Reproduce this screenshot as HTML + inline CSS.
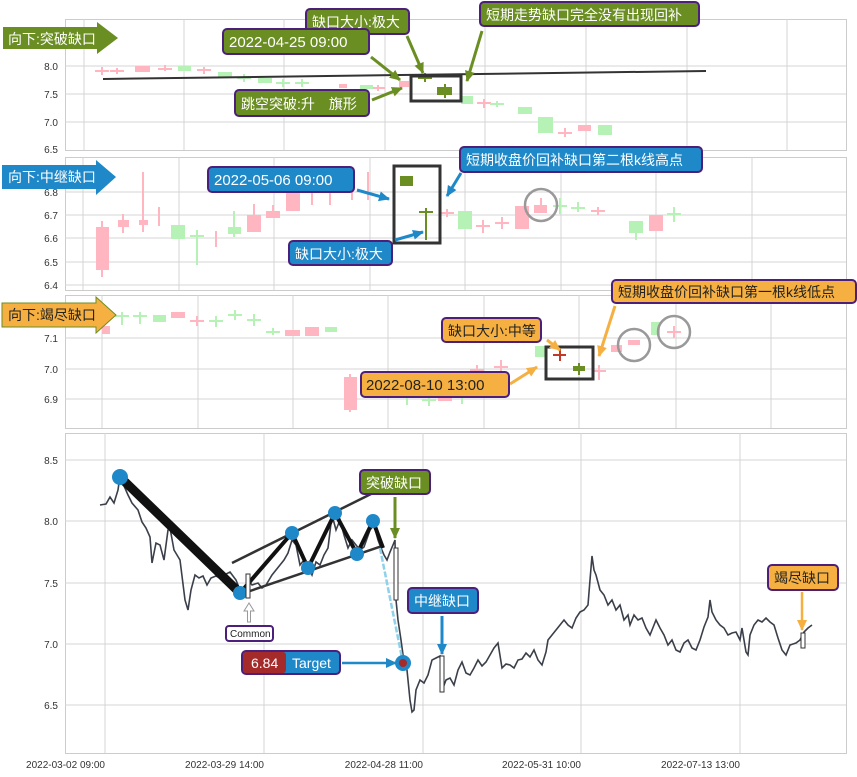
<!DOCTYPE html>
<html><head><meta charset="utf-8"><style>
body{margin:0;background:#fff}
svg{display:block;font-family:"Liberation Sans","Noto Sans CJK SC",sans-serif}
.ax{font-size:10px;fill:#333}
.g{stroke:#d4d4d4;stroke-width:1}
.lb{font-size:14px}
</style></head><body>
<svg width="857" height="777" viewBox="0 0 857 777" xmlns="http://www.w3.org/2000/svg">
<defs>
<marker id="ag" markerUnits="userSpaceOnUse" markerWidth="12" markerHeight="12" refX="10" refY="6" orient="auto"><path d="M0,1L11,6L0,11z" fill="#6b8e23"/></marker>
<marker id="ab" markerUnits="userSpaceOnUse" markerWidth="12" markerHeight="12" refX="10" refY="6" orient="auto"><path d="M0,1L11,6L0,11z" fill="#1e88c8"/></marker>
<marker id="ao" markerUnits="userSpaceOnUse" markerWidth="12" markerHeight="12" refX="10" refY="6" orient="auto"><path d="M0,1L11,6L0,11z" fill="#f5b041"/></marker>
</defs>
<g fill="none" stroke="#ccc">
<rect x="65.5" y="19.5" width="781" height="131"/>
<rect x="65.5" y="157.5" width="781" height="133"/>
<rect x="65.5" y="295.5" width="781" height="133"/>
<rect x="65.5" y="433.5" width="781" height="320"/>
</g>
<g class="g">
<path d="M65 66H846M65 94H846M65 122H846M84 19V150M184 19V150M284 19V150M385 19V150M485 19V150M586 19V150M687 19V150M787 19V150"/>
<path d="M65 192H846M65 215H846M65 238H846M65 262H846M65 285H846M83 157V290M179 157V290M274 157V290M370 157V290M465 157V290M561 157V290M656 157V290M752 157V290"/>
<path d="M65 338H846M65 369H846M65 399H846M102 295V428M198 295V428M293 295V428M388 295V428M484 295V428M579 295V428M676 295V428M771 295V428"/>
<path d="M65 460H846M65 521H846M65 583H846M65 644H846M65 705H846M105 433V753M264 433V753M423 433V753M581 433V753M740 433V753"/>
</g>
<g class="ax" text-anchor="end">
<text x="58" y="70">8.0</text><text x="58" y="98">7.5</text><text x="58" y="126">7.0</text><text x="58" y="153">6.5</text>
<text x="58" y="196">6.8</text><text x="58" y="219">6.7</text><text x="58" y="242">6.6</text><text x="58" y="266">6.5</text><text x="58" y="289">6.4</text>
<text x="58" y="342">7.1</text><text x="58" y="373">7.0</text><text x="58" y="403">6.9</text>
<text x="58" y="464">8.5</text><text x="58" y="525">8.0</text><text x="58" y="587">7.5</text><text x="58" y="648">7.0</text><text x="58" y="709">6.5</text>
</g>
<g class="ax" text-anchor="end">
<text x="105" y="768">2022-03-02 09:00</text><text x="264" y="768">2022-03-29 14:00</text><text x="423" y="768">2022-04-28 11:00</text><text x="581" y="768">2022-05-31 10:00</text><text x="740" y="768">2022-07-13 13:00</text>
</g>
<g stroke-width="2">
<g fill="#ffb6c1" stroke="#ffb6c1">
<path d="M95 71H109M102 67V75M110 71H124M117 68V74M158 69H172M165 65V71M197 70H211M204 67V74M371 88H385M378 85V91M477 103H491M484 99V108M558 133H572M565 128V137"/>
<rect x="135" y="66" width="15" height="6" stroke="none"/><rect x="339" y="84" width="8" height="4" stroke="none"/><rect x="399" y="81" width="10" height="6" stroke="none"/><rect x="578" y="125" width="13" height="6" stroke="none"/>
</g>
<g fill="#b6f2b6" stroke="#b6f2b6">
<path d="M237 78H251M244 74V82M276 83H290M283 79V87M295 83H309M302 79V87M490 104H504M497 101V107"/>
<rect x="178" y="66" width="13" height="5" stroke="none"/><rect x="218" y="72" width="14" height="5" stroke="none"/><rect x="258" y="78" width="14" height="5" stroke="none"/><rect x="360" y="85" width="13" height="4" stroke="none"/><rect x="461" y="96" width="12" height="8" stroke="none"/><rect x="518" y="107" width="14" height="7" stroke="none"/><rect x="538" y="117" width="15" height="16" stroke="none"/><rect x="598" y="125" width="14" height="10" stroke="none"/>
</g>
<path d="M418 78H432M425 73V82" stroke="#6b8e23"/>
<rect x="437" y="87" width="15" height="8" fill="#6b8e23"/><path d="M445 84V98" stroke="#6b8e23"/>
</g>
<path d="M103 79L706 71" stroke="#333" stroke-width="2"/>
<rect x="411" y="76" width="50" height="25" fill="none" stroke="#333" stroke-width="3"/>
<g stroke-width="2">
<g fill="#ffb6c1" stroke="#ffb6c1">
<path d="M102 221V277M123 214V233M143 172V232M159 207V226M216 231V247M254 204V232M273 205V218M293 186V211M312 175V205M330 178V205M352 180V200M368 172V200M440 213H454M447 209V217M476 226H490M483 220V233M495 223H509M502 217V229M591 211H605M598 207V215"/>
<rect x="96" y="227" width="13" height="43" stroke="none"/><rect x="118" y="220" width="11" height="7" stroke="none"/><rect x="139" y="220" width="9" height="5" stroke="none"/><rect x="247" y="215" width="14" height="17" stroke="none"/><rect x="266" y="211" width="14" height="7" stroke="none"/><rect x="286" y="192" width="14" height="19" stroke="none"/><rect x="515" y="206" width="14" height="23" stroke="none"/><rect x="534" y="205" width="13" height="8" stroke="none"/><rect x="649" y="215" width="14" height="16" stroke="none"/>
<path d="M541 198V213"/>
</g>
<g fill="#b6f2b6" stroke="#b6f2b6">
<path d="M197 230V265M190 236H204M234 211V237M553 206H567M560 198V214M571 208H585M578 202V212M667 214H681M674 207V222M636 229V240"/>
<rect x="171" y="225" width="14" height="14" stroke="none"/><rect x="228" y="227" width="13" height="7" stroke="none"/><rect x="458" y="211" width="14" height="18" stroke="none"/><rect x="629" y="221" width="14" height="12" stroke="none"/>
</g>
<rect x="400" y="176" width="13" height="10" fill="#6b8e23"/>
<path d="M419 212H433M426 208V240" stroke="#6b8e23" stroke-width="2"/>
</g>
<rect x="394" y="166" width="46" height="77" fill="none" stroke="#333" stroke-width="3"/>
<circle cx="541" cy="205" r="16" fill="none" stroke="#999" stroke-width="2.5"/>
<g stroke-width="2">
<g fill="#ffb6c1" stroke="#ffb6c1">
<path d="M190 321H204M197 316V326M350 374V412M470 370H484M477 365V375M494 367H508M501 360V372M592 371H606M599 365V380M560 350V360M667 332H681M674 326V338"/>
<rect x="102" y="326" width="8" height="8" stroke="none"/><rect x="171" y="312" width="14" height="6" stroke="none"/><rect x="285" y="330" width="15" height="6" stroke="none"/><rect x="305" y="327" width="14" height="9" stroke="none"/><rect x="344" y="377" width="13" height="33" stroke="none"/><rect x="410" y="391" width="14" height="5" stroke="none"/><rect x="438" y="396" width="14" height="5" stroke="none"/><rect x="611" y="345" width="11" height="7" stroke="none"/><rect x="628" y="340" width="12" height="5" stroke="none"/>
</g>
<g fill="#b6f2b6" stroke="#b6f2b6">
<path d="M115 316H129M122 312V325M133 316H147M140 312V324M209 321H223M216 316V327M228 315H242M235 310V320M247 320H261M254 314V326M266 332H280M273 328V335M400 390H414M407 385V405M422 400H436M429 395V406M455 395H469M462 390V404"/>
<rect x="153" y="315" width="13" height="7" stroke="none"/><rect x="325" y="327" width="12" height="5" stroke="none"/><rect x="535" y="346" width="10" height="11" stroke="none"/><rect x="651" y="322" width="9" height="13" stroke="none"/>
</g>
<path d="M553 355H566M560 349V361" stroke="#c0392b"/>
<rect x="573" y="366" width="12" height="5" fill="#6b8e23"/><path d="M579 363V375" stroke="#6b8e23"/>
</g>
<rect x="546" y="347" width="47" height="32" fill="none" stroke="#333" stroke-width="3"/>
<circle cx="634" cy="345" r="16" fill="none" stroke="#999" stroke-width="2.5"/>
<circle cx="674" cy="332" r="16" fill="none" stroke="#999" stroke-width="2.5"/>
<polyline fill="none" stroke="#3a3f4a" stroke-width="1.6" points="100,505 106,504 110,497 114,503 118,490 120,476 124,486 128,495 132,503 138,510 142,522 146,528 150,537 152,563 156,543 160,545 164,560 166,545 168,530 170,528 174,550 180,560 185,600 188,610 191,590 195,575 199,578 203,576 207,585 211,578 216,576 220,578 224,575 230,572 236,580 240,590 244,592 248,580 252,585 258,583 262,588 266,585 272,575 280,565 284,560 288,553 292,540 296,545 300,565 304,560 308,567 312,575 316,562 320,565 324,555 328,548 332,515 336,530 340,520 344,535 348,548 352,540 356,545 360,550 364,547 370,530 374,525 378,540 381,548 384,555 387,560 390,552 393,545 395,540 396,600 398,620 401,640 404,662 407,670 410,700 412,712 414,710 416,690 420,680 424,683 428,675 432,660 436,658 440,656 443,688 446,680 450,678 454,685 458,670 462,662 466,673 470,675 474,668 478,660 482,666 486,662 490,655 494,648 498,643 502,668 506,664 510,665 514,668 518,660 522,659 526,653 530,657 534,650 538,660 542,665 546,652 548,640 552,635 556,630 560,625 564,620 568,625 572,628 576,618 580,612 584,610 588,605 590,580 592,556 594,570 596,575 600,590 604,595 608,605 612,600 616,610 620,605 624,620 628,615 630,625 634,615 638,620 642,618 646,628 650,635 654,625 656,620 660,628 664,635 668,645 672,640 676,650 680,652 684,643 688,640 692,648 696,650 700,640 704,627 708,617 710,600 712,612 716,620 720,625 724,628 728,635 732,633 736,632 740,640 742,628 746,652 748,655 750,635 754,625 758,620 762,622 766,618 770,622 774,625 778,638 782,650 786,655 790,645 796,643 800,640 804,632 808,628 812,625"/>
<path d="M232 563L373 493M247 592L382 546" stroke="#333" stroke-width="2.5"/>
<path d="M120 477L240 593" stroke="#111" stroke-width="9"/>
<polyline points="240,593 292,533 308,568 335,513 357,554 373,521 383,548" fill="none" stroke="#111" stroke-width="4"/>
<path d="M380 548L403 663" stroke="#8fd0ea" stroke-width="2.5" stroke-dasharray="6,2"/>
<g fill="#1e88c8">
<circle cx="120" cy="477" r="8"/><circle cx="240" cy="593" r="7"/><circle cx="292" cy="533" r="7"/><circle cx="308" cy="568" r="7"/><circle cx="335" cy="513" r="7"/><circle cx="357" cy="554" r="7"/><circle cx="373" cy="521" r="7"/><circle cx="403" cy="663" r="8"/>
</g>
<circle cx="403" cy="663" r="4" fill="#a52a2a"/>
<g fill="#fff" stroke="#333" stroke-width="1">
<rect x="246" y="574" width="4" height="24"/><rect x="394" y="548" width="4" height="52"/><rect x="440" y="656" width="4" height="36"/><rect x="801" y="633" width="4" height="15"/>
</g>
<path d="M395 497V538" stroke="#6b8e23" stroke-width="3" marker-end="url(#ag)"/>
<path d="M442 616V654" stroke="#1e88c8" stroke-width="3" marker-end="url(#ab)"/>
<path d="M802 592V630" stroke="#f5b041" stroke-width="2.5" marker-end="url(#ao)"/>
<path d="M342 663H396" stroke="#1e88c8" stroke-width="2.5" marker-end="url(#ab)"/>
<path d="M249 603L244 611H247.5V622H250.5V611H254Z" fill="#fff" stroke="#999"/>
<path d="M3 27H97V22L118 38L97 54V49H3Z" fill="#6b8e23"/>
<text x="8" y="44" fill="#fff" font-size="14">向下:突破缺口</text>
<path d="M2 165H96V160L116 177L96 195V189H2Z" fill="#1e88c8"/>
<text x="8" y="182" fill="#fff" font-size="14">向下:中继缺口</text>
<path d="M2 303H96V297L116 315L96 333V327H2Z" fill="#f5b041" stroke="#6b8e23" stroke-width="1"/>
<text x="8" y="320" fill="#222" font-size="14">向下:竭尽缺口</text>
<g stroke-width="3">
<path d="M371 57L400 80" stroke="#6b8e23" marker-end="url(#ag)"/>
<path d="M372 100L402 88" stroke="#6b8e23" marker-end="url(#ag)"/>
<path d="M407 36L423 73" stroke="#6b8e23" marker-end="url(#ag)"/>
<path d="M482 31L467 81" stroke="#6b8e23" marker-end="url(#ag)"/>
<path d="M357 190L389 199" stroke="#1e88c8" marker-end="url(#ab)"/>
<path d="M395 240L423 232" stroke="#1e88c8" marker-end="url(#ab)"/>
<path d="M461 173L447 196" stroke="#1e88c8" marker-end="url(#ab)"/>
<path d="M510 384L537 367" stroke="#f5b041" marker-end="url(#ao)"/>
<path d="M547 340L560 350" stroke="#f5b041" marker-end="url(#ao)"/>
<path d="M615 306L599 356" stroke="#f5b041" marker-end="url(#ao)"/>
</g>
<g stroke="#4b1f7a" stroke-width="2">
<rect x="306" y="9" width="103" height="25" rx="4" fill="#6b8e23"/>
<rect x="223" y="29" width="146" height="25" rx="4" fill="#6b8e23"/>
<rect x="235" y="90" width="134" height="26" rx="4" fill="#6b8e23"/>
<rect x="480" y="2" width="219" height="24" rx="4" fill="#6b8e23"/>
<rect x="208" y="167" width="146" height="25" rx="4" fill="#1e88c8"/>
<rect x="289" y="241" width="103" height="24" rx="4" fill="#1e88c8"/>
<rect x="460" y="147" width="242" height="25" rx="4" fill="#1e88c8"/>
<rect x="442" y="318" width="99" height="24" rx="4" fill="#f5b041"/>
<rect x="361" y="372" width="148" height="25" rx="4" fill="#f5b041"/>
<rect x="612" y="280" width="244" height="23" rx="4" fill="#f5b041"/>
<rect x="360" y="470" width="70" height="24" rx="4" fill="#6b8e23"/>
<rect x="408" y="588" width="70" height="25" rx="4" fill="#1e88c8"/>
<rect x="768" y="565" width="70" height="25" rx="4" fill="#f5b041"/>
<rect x="226" y="626" width="47" height="15" rx="3" fill="#fff"/>
<rect x="242" y="651" width="98" height="23" rx="4" fill="#1e88c8"/>
</g>
<rect x="243" y="652" width="43" height="21" rx="3" fill="#a52a2a"/>
<g class="lb" fill="#fff">
<text x="312" y="27">缺口大小:极大</text>
<text x="229" y="47" font-size="15">2022-04-25 09:00</text>
<text x="241" y="109">跳空突破:升　旗形</text>
<text x="486" y="20">短期走势缺口完全没有出现回补</text>
<text x="214" y="185" font-size="15">2022-05-06 09:00</text>
<text x="295" y="259">缺口大小:极大</text>
<text x="466" y="165">短期收盘价回补缺口第二根k线高点</text>
<text x="366" y="488">突破缺口</text>
<text x="414" y="606">中继缺口</text>
<text x="251" y="668">6.84</text>
<text x="292" y="668">Target</text>
</g>
<g class="lb" fill="#222">
<text x="448" y="336">缺口大小:中等</text>
<text x="366" y="390" font-size="15">2022-08-10 13:00</text>
<text x="618" y="297">短期收盘价回补缺口第一根k线低点</text>
<text x="774" y="583">竭尽缺口</text>
<text x="230" y="637" font-size="10">Common</text>
</g>
</svg>
</body></html>
